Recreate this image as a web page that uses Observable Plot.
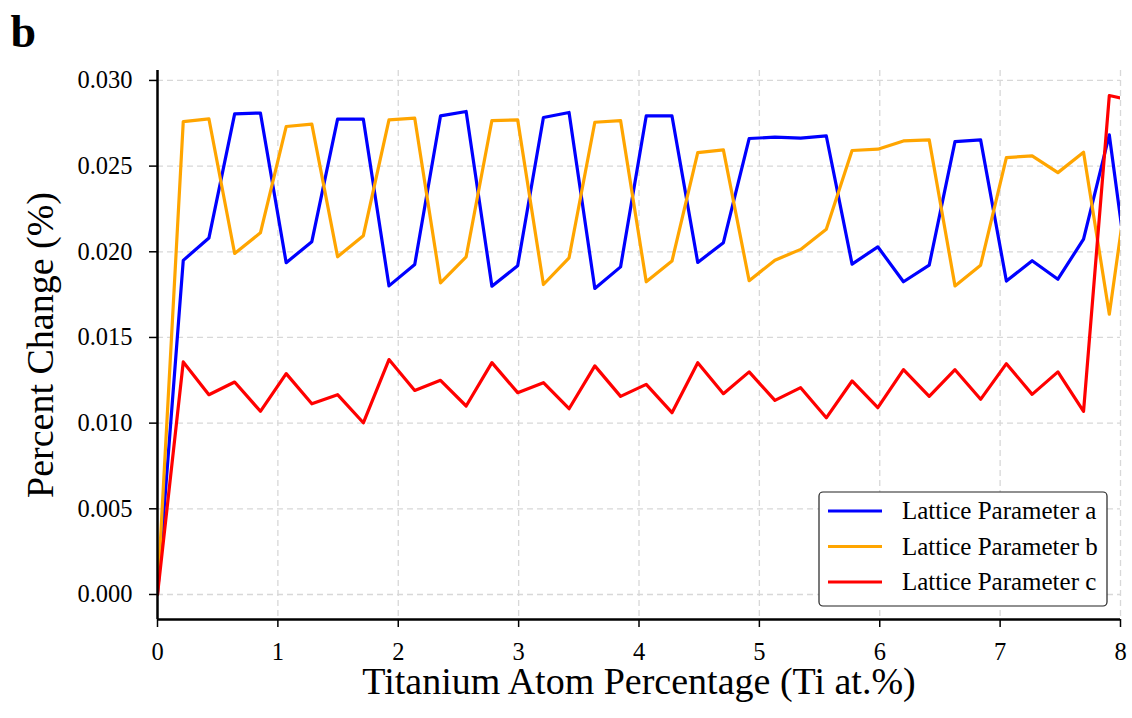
<!DOCTYPE html>
<html><head><meta charset="utf-8">
<script src="https://cdn.jsdelivr.net/npm/d3@7"></script>
<script src="https://cdn.jsdelivr.net/npm/@observablehq/plot@0.6"></script>
<style>
html,body{margin:0;padding:0;background:#fff;}
#chart{position:relative;width:1132px;height:718px;}
svg{display:block;}
</style></head><body><div id="chart"></div>
<script>
const tiAt = [0, 0.214, 0.427, 0.641, 0.855, 1.069, 1.282, 1.496, 1.710, 1.923, 2.137, 2.351, 2.564, 2.778, 2.992, 3.206, 3.419, 3.633, 3.847, 4.060, 4.274, 4.488, 4.701, 4.915, 5.129, 5.343, 5.556, 5.770, 5.984, 6.197, 6.411, 6.625, 6.838, 7.052, 7.266, 7.480, 7.693, 7.907, 8.121];
const latticeA = [0, 0.0195, 0.0208, 0.02805, 0.0281, 0.01936, 0.02059, 0.02774, 0.02774, 0.01801, 0.01926, 0.02793, 0.02819, 0.01799, 0.01918, 0.02784, 0.02813, 0.01786, 0.01912, 0.02793, 0.02793, 0.01938, 0.02053, 0.02661, 0.02669, 0.02663, 0.02676, 0.01928, 0.02029, 0.01825, 0.01922, 0.02643, 0.02653, 0.01829, 0.01948, 0.0184, 0.02074, 0.02682, 0.0156];
const latticeB = [0, 0.0276, 0.02776, 0.0199, 0.02111, 0.02731, 0.02745, 0.01971, 0.02094, 0.0277, 0.0278, 0.01819, 0.01971, 0.02766, 0.0277, 0.01809, 0.01965, 0.02756, 0.02766, 0.01825, 0.01946, 0.02579, 0.02595, 0.01831, 0.01951, 0.02014, 0.02131, 0.02591, 0.02599, 0.02647, 0.02653, 0.01801, 0.01922, 0.0255, 0.0256, 0.02462, 0.02581, 0.01636, 0.027];
const latticeC = [0, 0.01357, 0.01166, 0.0124, 0.01069, 0.01289, 0.01113, 0.01166, 0.01002, 0.01371, 0.01191, 0.0125, 0.011, 0.01353, 0.01178, 0.01236, 0.01084, 0.01334, 0.01156, 0.01226, 0.01061, 0.01353, 0.01172, 0.01299, 0.01133, 0.01207, 0.01031, 0.01246, 0.0109, 0.01312, 0.01156, 0.01312, 0.01139, 0.01347, 0.01168, 0.01299, 0.01069, 0.02912, 0.0288];
const seriesNames = ["Lattice Parameter a", "Lattice Parameter b", "Lattice Parameter c"];
const seriesColors = ["#0000ff", "#ffa500", "#ff0000"];
const xTicks = [0, 1, 2, 3, 4, 5, 6, 7, 8];
const yTicks = [0, 0.005, 0.010, 0.015, 0.020, 0.025, 0.030];
const xDomain = [0, 8];
const yDomain = [-0.00146, 0.03058];
const panelLabel = "b";
const xLabel = "Titanium Atom Percentage (Ti at.%)";
const yLabel = "Percent Change (%)";

const rows = [];
[latticeA, latticeB, latticeC].forEach((vals, k) =>
  vals.forEach((v, i) => rows.push({x: tiAt[i], y: v, series: seriesNames[k]})));

const font = "'Liberation Serif','Times New Roman',Times,serif";
const gridStyle = {stroke: "#d8d8d8", strokeOpacity: 1, strokeWidth: 1.3, strokeDasharray: "6,4"};

const plot = Plot.plot({
  width: 1132, height: 718,
  marginLeft: 157, marginRight: 12, marginTop: 70, marginBottom: 99,
  style: {fontFamily: font, background: "#fff", color: "#000", overflow: "visible"},
  x: {domain: xDomain},
  y: {domain: yDomain},
  color: {domain: seriesNames, range: seriesColors},
  marks: [
    Plot.gridX(xTicks, gridStyle),
    Plot.gridY(yTicks, gridStyle),
    Plot.line(rows, {x: "x", y: "y", z: "series", stroke: "series", strokeWidth: 3.2, clip: true}),
    Plot.ruleX([xDomain[0]], {stroke: "#000", strokeWidth: 2.5}),
    Plot.ruleY([yDomain[0]], {stroke: "#000", strokeWidth: 2.5}),
    Plot.axisX(xTicks, {tickSize: 8, tickPadding: 15, fontSize: 24.5, fontFamily: font, fontVariant: "normal", label: null, strokeWidth: 1.5, tickFormat: d => String(d)}),
    Plot.axisY(yTicks, {tickSize: 8, tickPadding: 17, fontSize: 24.5, fontFamily: font, fontVariant: "normal", label: null, strokeWidth: 1.5, tickFormat: d3.format(".3f")}),
    Plot.text([xLabel], {text: d => d, frameAnchor: "bottom", dy: 74, lineAnchor: "bottom", textAnchor: "middle", fontSize: 38, fontFamily: font, fill: "#000"}),
    Plot.text([yLabel], {text: d => d, frameAnchor: "left", dx: -105, rotate: -90, lineAnchor: "bottom", textAnchor: "middle", fontSize: 38, fontFamily: font, fill: "#000"}),
    Plot.text([panelLabel], {text: d => d, frameAnchor: "top-left", dx: -147, dy: -24, lineAnchor: "bottom", textAnchor: "start", fontSize: 46, fontWeight: "bold", fontFamily: font, fill: "#000"})
  ]
});
document.getElementById("chart").appendChild(plot);

// legend
const svg = d3.select(plot);
const lg = svg.append("g").attr("font-family", font).attr("font-size", 25).attr("text-anchor", "start");
lg.append("rect").attr("x", 819).attr("y", 492).attr("width", 288).attr("height", 114)
  .attr("rx", 4).attr("fill", "#fff").attr("stroke", "#222").attr("stroke-width", 1.2);
seriesNames.forEach((name, k) => {
  const cy = 511 + k * 35.5;
  lg.append("line").attr("x1", 828).attr("x2", 882).attr("y1", cy).attr("y2", cy)
    .attr("stroke", seriesColors[k]).attr("stroke-width", 3);
  lg.append("text").attr("x", 902).attr("y", cy + 8).attr("fill", "#000").attr("text-anchor", "start").text(name);
});
</script>
</body></html>
